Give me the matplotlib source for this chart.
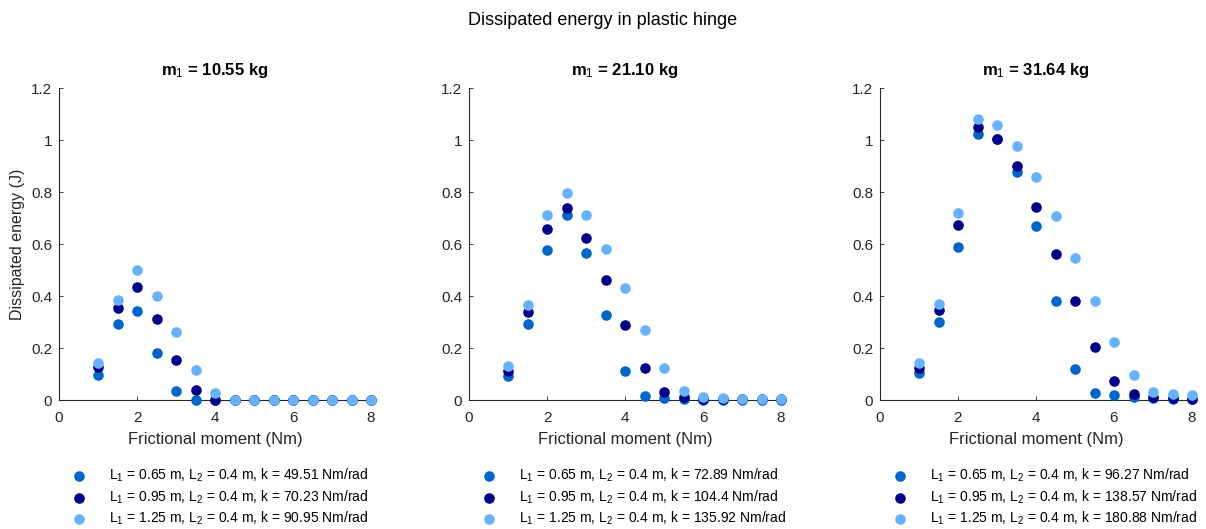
import matplotlib
matplotlib.use("Agg")
import matplotlib.pyplot as plt

plt.rcParams['font.family'] = ['Liberation Sans', 'DejaVu Sans']
plt.rcParams['mathtext.fontset'] = 'custom'
plt.rcParams['mathtext.rm'] = 'Liberation Sans'
plt.rcParams['mathtext.it'] = 'Liberation Sans:italic'
plt.rcParams['mathtext.bf'] = 'Liberation Sans:bold'

moment = [1, 1.5, 2, 2.5, 3, 3.5, 4, 4.5, 5, 5.5, 6, 6.5, 7, 7.5, 8]

titles = ["m$_1$ = 10.55 kg", "m$_1$ = 21.10 kg", "m$_1$ = 31.64 kg"]

# panel 1 (m1 = 10.55 kg)
p1_s1 = [0.096, 0.294, 0.342, 0.182, 0.033, 0.001, 0, 0, 0, 0, 0, 0, 0, 0, 0]
p1_s2 = [0.126, 0.353, 0.436, 0.312, 0.154, 0.038, 0, 0, 0, 0, 0, 0, 0, 0, 0]
p1_s3 = [0.144, 0.386, 0.499, 0.399, 0.260, 0.114, 0.026, 0, 0, 0, 0, 0, 0, 0, 0]
# panel 2 (m1 = 21.10 kg)
p2_s1 = [0.094, 0.294, 0.576, 0.713, 0.567, 0.328, 0.110, 0.017, 0.008, 0.004, 0.001, 0.001, 0.001, 0.001, 0.001]
p2_s2 = [0.113, 0.337, 0.658, 0.737, 0.622, 0.463, 0.290, 0.124, 0.031, 0.010, 0.004, 0.003, 0.002, 0.002, 0.002]
p2_s3 = [0.129, 0.365, 0.710, 0.795, 0.710, 0.581, 0.429, 0.271, 0.123, 0.033, 0.013, 0.008, 0.005, 0.004, 0.004]
# panel 3 (m1 = 31.64 kg)
p3_s1 = [0.103, 0.300, 0.590, 1.024, 1.005, 0.876, 0.668, 0.382, 0.118, 0.028, 0.021, 0.012, 0.008, 0.005, 0.004]
p3_s2 = [0.122, 0.345, 0.674, 1.049, 1.005, 0.899, 0.744, 0.563, 0.379, 0.204, 0.072, 0.024, 0.012, 0.006, 0.005]
p3_s3 = [0.141, 0.369, 0.719, 1.082, 1.058, 0.978, 0.858, 0.709, 0.547, 0.382, 0.222, 0.095, 0.029, 0.022, 0.019]

labels1 = ["L$_1$ = 0.65 m, L$_2$ = 0.4 m, k = 49.51 Nm/rad",
           "L$_1$ = 0.95 m, L$_2$ = 0.4 m, k = 70.23 Nm/rad",
           "L$_1$ = 1.25 m, L$_2$ = 0.4 m, k = 90.95 Nm/rad"]
labels2 = ["L$_1$ = 0.65 m, L$_2$ = 0.4 m, k = 72.89 Nm/rad",
           "L$_1$ = 0.95 m, L$_2$ = 0.4 m, k = 104.4 Nm/rad",
           "L$_1$ = 1.25 m, L$_2$ = 0.4 m, k = 135.92 Nm/rad"]
labels3 = ["L$_1$ = 0.65 m, L$_2$ = 0.4 m, k = 96.27 Nm/rad",
           "L$_1$ = 0.95 m, L$_2$ = 0.4 m, k = 138.57 Nm/rad",
           "L$_1$ = 1.25 m, L$_2$ = 0.4 m, k = 180.88 Nm/rad"]

panels = [
    (titles[0], [p1_s1, p1_s2, p1_s3], labels1),
    (titles[1], [p2_s1, p2_s2, p2_s3], labels2),
    (titles[2], [p3_s1, p3_s2, p3_s3], labels3),
]
colors = ['#0066CC', '#00008B', '#66B2FF']

fig = plt.figure(figsize=(12.06, 5.29), dpi=100)
W, H = 1206, 529
lefts = [59, 469, 880]
ax_w = 312
ax_bottom = 529 - 400
ax_h = 312
text_col = '#262626'

for i, (title, series, labels) in enumerate(panels):
    ax = fig.add_axes([lefts[i] / W, ax_bottom / H, ax_w / W, ax_h / H])
    for ys, c, lab in zip(series, colors, labels):
        ax.scatter(moment, ys, s=58, color=c, linewidths=0, label=lab,
                   clip_on=False, zorder=3)
    ax.set_xlim(0, 8)
    ax.set_ylim(0, 1.2)
    ax.set_xticks([0, 2, 4, 6, 8])
    ax.set_yticks([0, 0.2, 0.4, 0.6, 0.8, 1, 1.2])
    ax.set_yticklabels(['0', '0.2', '0.4', '0.6', '0.8', '1', '1.2'])
    for side in ['top', 'right']:
        ax.spines[side].set_visible(False)
    for side in ['left', 'bottom']:
        ax.spines[side].set_color(text_col)
        ax.spines[side].set_linewidth(0.8)
    ax.tick_params(direction='in', length=3, width=0.6, colors=text_col,
                   labelsize=11)
    ax.tick_params(axis='x', pad=8)
    ax.tick_params(axis='y', pad=5)
    ax.set_xlabel('Frictional moment (Nm)', fontsize=12, color=text_col, labelpad=5)
    if i == 0:
        ax.set_ylabel('Dissipated energy (J)', fontsize=11.5, color=text_col, labelpad=4)
    ax.set_title(title, fontsize=12, fontweight='bold', pad=9)
    leg = ax.legend(loc='upper left', bbox_to_anchor=(0.013, -0.196), frameon=False,
                    fontsize=10, handletextpad=1.4, labelspacing=0.3,
                    borderaxespad=0, handlelength=1.5, scatterpoints=1)

fig.suptitle('Dissipated energy in plastic hinge', fontsize=13, y=0.977)
fig.savefig('out.png', dpi=100)
